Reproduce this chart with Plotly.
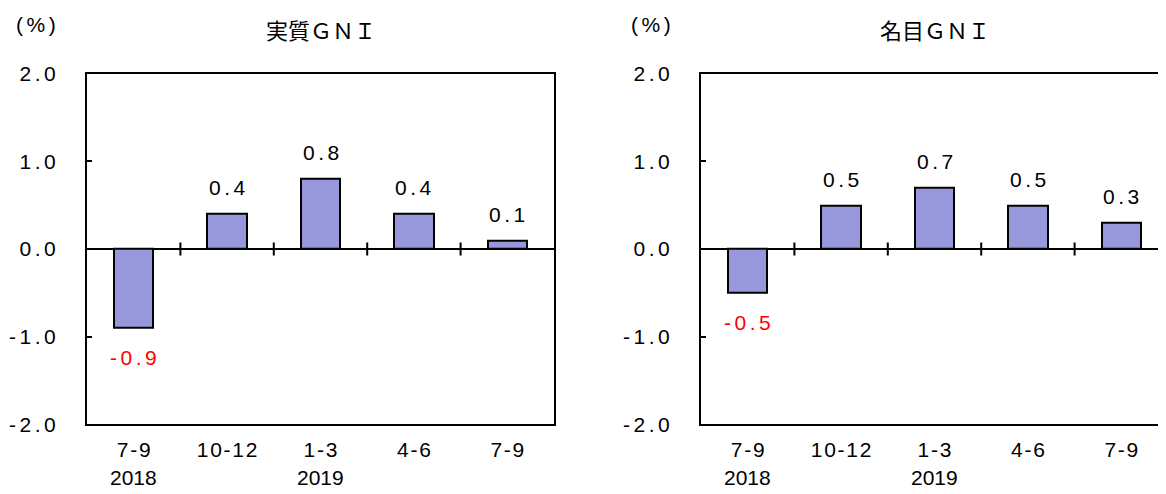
import plotly.graph_objects as go

categories = ["7-9", "10-12", "1-3", "4-6", "7-9"]
year_labels = ["2018", "", "2019", "", ""]
real_gni = [-0.9, 0.4, 0.8, 0.4, 0.1]
nominal_gni = [-0.5, 0.5, 0.7, 0.5, 0.3]
titles = ["実質ＧＮＩ", "名目ＧＮＩ"]
y_ticks = [-2.0, -1.0, 0.0, 1.0, 2.0]
unit_label = "(%)"

HS = "\u200a\u200a"
def spaced(s, sep=HS):
    return sep.join(list(s))

FONT = "Liberation Sans, Arial, sans-serif"
JFONT = "Noto Sans CJK JP, sans-serif"
BAR_COLOR = "#9797DB"
FS = 21

W, H = 1166, 494
# calibration of the page placement (observed in the rendered screenshot)
OFF_X = 7
Y0, HR = 17, 474

def px_x(x):
    return (x - OFF_X) / W

def px_y(y):
    return 1 - (y - Y0) / HR

x_domains = [[px_x(86), px_x(553)], [px_x(700), px_x(1167)]]
y_domain = [px_y(424), px_y(71)]

fig = go.Figure()
series = [real_gni, nominal_gni]
unit_x = [35, 650]
for k, vals in enumerate(series):
    xa = "x" if k == 0 else "x2"
    ya = "y" if k == 0 else "y2"
    xs = list(range(len(categories)))
    fig.add_trace(go.Bar(
        x=xs, y=vals, xaxis=xa, yaxis=ya, width=0.42,
        marker=dict(color=BAR_COLOR, line=dict(color="black", width=2)),
        showlegend=False, hoverinfo="skip",
    ))
    for i, v in enumerate(vals):
        fig.add_annotation(
            x=i, y=v, xref=xa, yref=ya, text=spaced(f"{v:.1f}"),
            showarrow=False, yanchor="middle",
            yshift=26 if v >= 0 else -30,
            font=dict(family=FONT, size=FS, color="black" if v >= 0 else "red"),
        )
    for i in range(len(categories) - 1):
        fig.add_shape(type="line", xref=xa, yref=ya,
                      x0=i + 0.5, x1=i + 0.5, y0=-0.075, y1=0.075,
                      line=dict(color="black", width=2))
    for i, yl in enumerate(year_labels):
        if yl:
            fig.add_annotation(x=i, y=px_y(477), xref=xa, yref="paper", text=yl,
                               showarrow=False, yanchor="middle",
                               font=dict(family=FONT, size=FS, color="black"))
    dom = x_domains[k]
    fig.add_annotation(x=(dom[0] + dom[1]) / 2, y=px_y(26), xref="paper", yref="paper",
                       text=titles[k], showarrow=False, yanchor="middle", xanchor="center",
                       font=dict(family=JFONT, size=22, color="black"))
    fig.add_annotation(x=px_x(unit_x[k]), y=px_y(22),
                       xref="paper", yref="paper", text=spaced(unit_label),
                       showarrow=False, yanchor="middle", xanchor="center",
                       font=dict(family=FONT, size=FS, color="black"))

axis_common_x = dict(
    tickmode="array", tickvals=list(range(len(categories))),
    ticktext=[spaced(c, "\u200a") for c in categories],
    range=[-0.5, len(categories) - 0.5],
    showline=True, linecolor="black", linewidth=2,
    ticks="", showgrid=False, zeroline=False,
    tickfont=dict(family=FONT, size=FS, color="black"),
    ticklabelstandoff=5, fixedrange=True,
)
axis_common_y = dict(
    range=[-2.0, 2.0], tickmode="array", tickvals=y_ticks,
    ticktext=[spaced(f"{v:.1f}") for v in y_ticks],
    showline=True, linecolor="black", linewidth=2,
    ticks="inside", ticklen=5, tickwidth=1.5, tickcolor="black",
    showgrid=False, zeroline=True, zerolinecolor="black", zerolinewidth=2,
    tickfont=dict(family=FONT, size=FS, color="black"),
    ticklabelstandoff=25, fixedrange=True,
)

fig.update_layout(
    width=W, height=H,
    margin=dict(l=0, r=0, t=0, b=0),
    paper_bgcolor="white", plot_bgcolor="white",
    bargap=0,
    xaxis=dict(domain=x_domains[0], anchor="y", mirror=True, **axis_common_x),
    yaxis=dict(domain=y_domain, anchor="x", mirror=True, **axis_common_y),
    xaxis2=dict(domain=x_domains[1], anchor="y2", mirror=True, **axis_common_x),
    yaxis2=dict(domain=y_domain, anchor="x2", mirror=False, **axis_common_y),
)

fig.write_html("out.html")
